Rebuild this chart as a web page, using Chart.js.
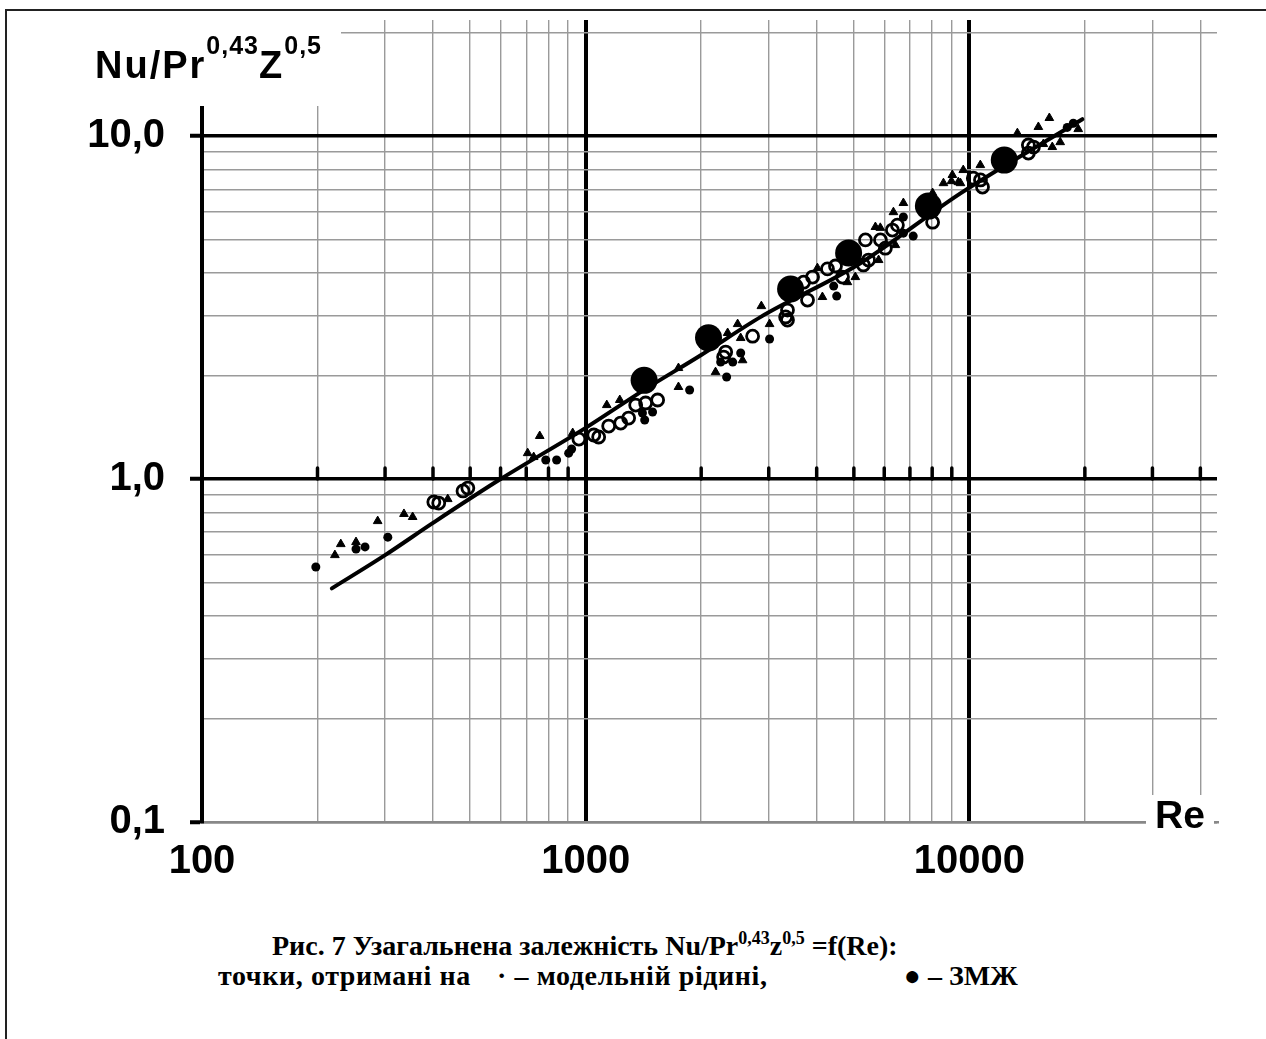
<!DOCTYPE html>
<html>
<head>
<meta charset="utf-8">
<script src="https://cdn.jsdelivr.net/npm/chart.js@4.4.1/dist/chart.umd.min.js"></script>
<style>
  html, body { margin: 0; padding: 0; background: #fff; }
  body { width: 1266px; height: 1039px; position: relative; overflow: hidden; font-family: "Liberation Sans", Arial, sans-serif; }
  #frame { position: absolute; left: 5px; top: 9px; width: 1280px; height: 1030px; border-left: 2px solid #222; border-top: 2px solid #222; }
  #chart { position: absolute; left: 0; top: 0; }
  #ymask { position: absolute; left: 196px; top: 18px; width: 145px; height: 88px; background: #fff; }
  #ytitle { position: absolute; left: 95px; top: 46px; font: bold 38px/38px "Liberation Sans", Arial, sans-serif; letter-spacing: 2px; white-space: nowrap; }
  #ytitle .sup { position: relative; top: -24px; font-size: 25px; letter-spacing: 1px; }
  #xtitle { position: absolute; left: 1146px; top: 795px; padding: 0 9px; background: #fff; font: bold 39px/39px "Liberation Sans", Arial, sans-serif; white-space: nowrap; }
  .cap { position: absolute; font: bold 28px/28px "Liberation Serif", "Times New Roman", serif; white-space: pre; }
  .cap .sup { position: relative; top: -11px; font-size: 18px; }
  #cap1 { left: 272px; top: 932px; }
  #cap2a { left: 218px; top: 962px; letter-spacing: 0.6px; }
  #cap2b { left: 497px; top: 962px; letter-spacing: 0.6px; }
  #cap2c { left: 904px; top: 962px; }
</style>
</head>
<body>
<div id="frame"></div>
<canvas id="chart" width="1266" height="900"></canvas>
<div id="ymask"></div>
<div id="ytitle">Nu/Pr<span class="sup">0,43</span>Z<span class="sup">0,5</span></div>
<div id="xtitle">Re</div>
<div class="cap" id="cap1">Рис. 7 Узагальнена залежність Nu/Pr<span class="sup">0,43</span>z<span class="sup">0,5</span> =f(Re):</div>
<div class="cap" id="cap2a">точки, отримані на</div>
<div class="cap" id="cap2b">· – модельній рідині,</div>
<div class="cap" id="cap2c">● – ЗМЖ</div>
<script>
// axis ticks
const xTicks = [100, 200, 300, 400, 500, 600, 700, 800, 900,
  1000, 2000, 3000, 4000, 5000, 6000, 7000, 8000, 9000,
  10000, 20000, 30000, 40000];
const xLabelValues = [100, 1000, 10000];
const xLabels = ["100", "1000", "10000"];
const yTicks = [0.1, 0.2, 0.3, 0.4, 0.5, 0.6, 0.7, 0.8, 0.9,
  1, 2, 3, 4, 5, 6, 7, 8, 9, 10, 20];
const yLabelValues = [0.1, 1, 10];
const yLabels = ["0,1", "1,0", "10,0"];
const majorX = [1000, 10000];
const majorY = [1, 10];

// fitted curve
const fitRe = [218, 300, 400, 600, 1000, 1420, 2000, 2860, 5200, 9500, 19700];
const fitNu = [0.48, 0.60, 0.745, 1.0, 1.41, 1.82, 2.30, 2.97, 4.26, 6.82, 11.2];

// big filled circles
const bigRe = [1420, 2090, 3420, 4845, 7820, 12330];
const bigNu = [1.94, 2.58, 3.58, 4.56, 6.25, 8.51];

// small filled circles
const dotRe = [198, 252, 266, 305, 787, 840, 903, 919, 1406, 1425, 1494, 1866,
  2330, 2248, 2417, 2535, 3015, 4510, 4430, 6730, 7140, 6730, 17990, 18660];
const dotNu = [0.554, 0.625, 0.634, 0.677, 1.136, 1.136, 1.19, 1.223, 1.557, 1.486, 1.568, 1.818,
  1.984, 2.193, 2.193, 2.33, 2.56, 3.416, 3.653, 5.21, 5.11, 5.81, 10.6, 10.9];

// triangles
const triRe = [222, 230, 252, 287, 336, 354, 437, 706, 732, 759, 925, 1135, 1227, 1745,
  1745, 2180, 2564, 2344, 2489, 2535, 3015, 2870, 4140, 4018, 5045, 4810, 5800, 6415,
  5690, 5860, 6340, 6730, 8020, 8560, 8980, 9480, 9030, 9360, 9640, 10680, 13340,
  15130, 16160, 15590, 16450, 17250, 19220];
const triNu = [0.600, 0.646, 0.655, 0.754, 0.791, 0.775, 0.874, 1.19, 1.159, 1.335, 1.362, 1.643, 1.70, 1.855,
  2.107, 2.05, 2.22, 2.666, 2.83, 2.577, 2.83, 3.193, 3.394, 4.12, 3.88, 3.75, 4.35, 4.81,
  5.43, 5.40, 6.0, 6.38, 6.82, 7.29, 7.39, 7.29, 7.70, 7.34, 7.96, 8.23, 10.2,
  10.63, 11.29, 9.48, 9.29, 9.60, 10.48];

// open circles
const ringRe = [402, 414, 479, 493, 960, 1050, 1081, 1148, 1234, 1294, 1350, 1433, 1540,
  2317, 2288, 2723, 3357, 3357, 3320, 3786, 3698, 3902, 4268, 4478, 4670, 5295, 5460,
  5360, 5865, 6040, 6300, 6493, 8020, 10240, 10690, 10820, 14250, 14250, 14690];
const ringNu = [0.857, 0.851, 0.923, 0.941, 1.308, 1.344, 1.326, 1.427, 1.456, 1.506, 1.643, 1.666, 1.70,
  2.345, 2.268, 2.61, 3.11, 2.908, 2.97, 3.325, 3.75, 3.88, 4.10, 4.18, 3.88, 4.21, 4.35,
  4.98, 4.98, 4.71, 5.32, 5.50, 5.61, 7.54, 7.45, 7.10, 9.42, 8.92, 9.29];

const pts = (xs, ys) => xs.map((x, i) => ({ x, y: ys[i] }));
const isIn = (arr, v) => arr.some(a => Math.abs(a - v) < 1e-9);

// short tick marks standing on the Nu = 1 line
const crossTicks = {
  id: "crossTicks",
  beforeDatasetsDraw(chart) {
    const { ctx, scales: { x, y } } = chart;
    const y1 = y.getPixelForValue(1);
    ctx.save();
    ctx.strokeStyle = "#000";
    ctx.lineWidth = 3.5;
    ctx.lineCap = "round";
    for (const v of xTicks) {
      if (v === 100 || isIn(majorX, v)) continue;
      const px = x.getPixelForValue(v);
      ctx.beginPath();
      ctx.moveTo(px, y1 - 11);
      ctx.lineTo(px, y1);
      ctx.stroke();
    }
    ctx.restore();
  },
};

new Chart(document.getElementById("chart"), {
  type: "scatter",
  data: {
    datasets: [
      { label: "big", data: pts(bigRe, bigNu), pointRadius: 13.5, backgroundColor: "#000", borderColor: "#000", borderWidth: 0, order: 0 },
      { label: "fit", data: pts(fitRe, fitNu), showLine: true, pointRadius: 0, borderColor: "#000", borderWidth: 4, borderJoinStyle: "round", borderCapStyle: "round", cubicInterpolationMode: "monotone", order: 1 },
      { label: "rings", data: pts(ringRe, ringNu), pointRadius: 6, backgroundColor: "rgba(255,255,255,0)", borderColor: "#000", borderWidth: 2.8, order: 2 },
      { label: "dots", data: pts(dotRe, dotNu), pointRadius: 4.5, backgroundColor: "#000", borderColor: "#000", borderWidth: 0, order: 3 },
      { label: "tri", data: pts(triRe, triNu), pointStyle: "triangle", pointRadius: 5, backgroundColor: "#000", borderColor: "#000", borderWidth: 1, order: 4 },
    ],
  },
  options: {
    responsive: false,
    animation: false,
    layout: { padding: { top: 20, right: 49, left: 0, bottom: 0 } },
    plugins: { legend: { display: false }, tooltip: { enabled: false } },
    scales: {
      x: {
        type: "logarithmic", min: 100, max: 44200,
        afterBuildTicks: (s) => { s.ticks = xTicks.map(v => ({ value: v })); },
        afterFit: (s) => { s.height = 900 - 822; s.paddingLeft = 0; s.paddingRight = 0; },
        ticks: {
          autoSkip: false, maxRotation: 0, padding: 16, color: "#000",
          font: { family: "'Liberation Sans', Arial, sans-serif", size: 40, weight: "bold" },
          callback: (v) => { const i = xLabelValues.findIndex(a => Math.abs(a - v) < 1e-9); return i >= 0 ? xLabels[i] : ""; },
        },
        grid: {
          drawTicks: false,
          color: (c) => isIn(majorX, c.tick.value) || c.tick.value === 100 ? "#000" : "#9a9a9a",
          lineWidth: (c) => isIn(majorX, c.tick.value) || c.tick.value === 100 ? 4 : 1.4,
        },
        border: { display: true, color: "#888", width: 2.5 },
      },
      y: {
        type: "logarithmic", min: 0.1, max: 21.8,
        afterBuildTicks: (s) => { s.ticks = yTicks.map(v => ({ value: v })); },
        afterFit: (s) => { s.width = 202; s.paddingTop = 0; s.paddingBottom = 0; },
        ticks: {
          autoSkip: false, padding: 25, color: "#000",
          font: { family: "'Liberation Sans', Arial, sans-serif", size: 40, weight: "bold" },
          callback: (v) => { const i = yLabelValues.findIndex(a => Math.abs(a - v) < 1e-9); return i >= 0 ? yLabels[i] : ""; },
        },
        grid: {
          drawTicks: true, tickLength: 12,
          color: (c) => isIn(majorY, c.tick.value) ? "#000" : (Math.abs(c.tick.value - 0.1) < 1e-9 ? "#888" : "#9a9a9a"),
          lineWidth: (c) => isIn(majorY, c.tick.value) ? 3.5 : (Math.abs(c.tick.value - 0.1) < 1e-9 ? 2.5 : 1.4),
          tickColor: (c) => isIn(yLabelValues, c.tick.value) ? "#000" : "rgba(0,0,0,0)",
          tickWidth: (c) => isIn(yLabelValues, c.tick.value) ? 4 : 0,
        },
        border: { display: true, color: "#000", width: 4 },
      },
    },
  },
  plugins: [crossTicks],
});
</script>
</body>
</html>
